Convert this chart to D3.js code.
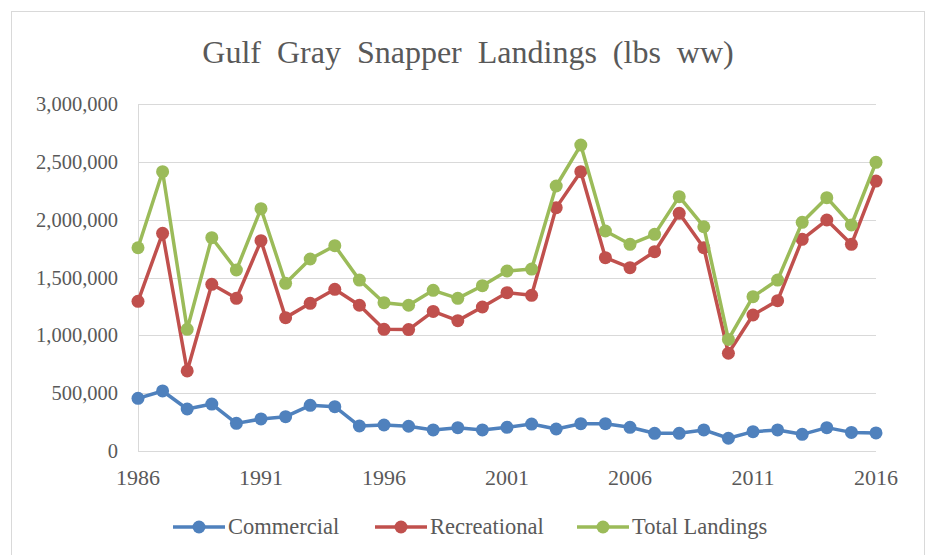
<!DOCTYPE html>
<html>
<head>
<meta charset="utf-8">
<script src="https://cdn.jsdelivr.net/npm/d3@7"></script>
<style>
  body { margin: 0; background: #fff; }
  svg text { font-family: 'Liberation Serif', 'Times New Roman', serif; fill: #595959; }
</style>
</head>
<body>
<div id="chart"></div>
<script>
// years on the x axis
var years = d3.range(1986, 2017);
var tickYears = [1986, 1991, 1996, 2001, 2006, 2011, 2016];
var yTicks = [0, 500000, 1000000, 1500000, 2000000, 2500000, 3000000];

var commercial = [455000, 519000, 363000, 406000, 239000, 277000, 297000, 395000, 383000, 216000,
  225000, 214000, 182000, 202000, 182000, 205000, 233000, 190000, 236000, 236000,
  205000, 153000, 153000, 182000, 110000, 167000, 182000, 144000, 202000, 161000, 156000];

var recreational = [1294000, 1882000, 692000, 1441000, 1320000, 1818000, 1153000, 1277000, 1398000, 1260000,
  1052000, 1050000, 1207000, 1127000, 1245000, 1369000, 1346000, 2104000, 2415000, 1671000,
  1585000, 1723000, 2055000, 1758000, 845000, 1176000, 1300000, 1830000, 1997000, 1787000, 2334000];

var totalLandings = [1757000, 2415000, 1052000, 1844000, 1565000, 2095000, 1450000, 1660000, 1775000, 1478000,
  1282000, 1260000, 1389000, 1320000, 1429000, 1556000, 1573000, 2291000, 2645000, 1902000,
  1787000, 1873000, 2199000, 1939000, 965000, 1334000, 1478000, 1977000, 2190000, 1954000, 2496000];

var seriesNames = ["Commercial", "Recreational", "Total Landings"];
var seriesColors = ["#4f81bd", "#c0504d", "#9bbb59"];
var seriesValues = [commercial, recreational, totalLandings];

var width = 927, height = 555;

var svg = d3.select('#chart')
  .append('svg')
  .attr('width', width)
  .attr('height', height);

// outer chart border
svg.append('rect')
  .attr('x', 11.5).attr('y', 11.5)
  .attr('width', 913).attr('height', 560)
  .attr('fill', 'none')
  .attr('stroke', '#d9d9d9');

var x = d3.scaleLinear().domain([1986, 2016]).range([138, 876]);
var y = d3.scaleLinear().domain([0, 3000000]).range([451, 104]);

// gridlines
svg.append('g')
  .selectAll('line')
  .data(yTicks)
  .enter()
  .append('line')
  .attr('x1', 138).attr('x2', 876)
  .attr('y1', function(d) { return Math.round(y(d)) + 0.5; })
  .attr('y2', function(d) { return Math.round(y(d)) + 0.5; })
  .attr('stroke', '#d9d9d9')
  .attr('stroke-width', 1);

// left axis line
svg.append('line')
  .attr('x1', 138.5).attr('x2', 138.5)
  .attr('y1', 104).attr('y2', 451)
  .attr('stroke', '#d9d9d9');

// y tick labels
svg.append('g')
  .selectAll('text')
  .data(yTicks)
  .enter()
  .append('text')
  .attr('x', 118)
  .attr('y', function(d) { return y(d) + 7; })
  .attr('text-anchor', 'end')
  .style('font-size', '20.5px')
  .text(function(d) { return d3.format(',')(d); });

// x tick labels
svg.append('g')
  .selectAll('text')
  .data(tickYears)
  .enter()
  .append('text')
  .attr('x', function(d) { return x(d); })
  .attr('y', 485)
  .attr('text-anchor', 'middle')
  .style('font-size', '22px')
  .text(function(d) { return d; });

// title
svg.append('text')
  .attr('x', 468)
  .attr('y', 63)
  .attr('text-anchor', 'middle')
  .style('font-size', '32px')
  .style('word-spacing', '8px')
  .text('Gulf Gray Snapper Landings (lbs ww)');

var line = d3.line()
  .x(function(d, i) { return x(years[i]); })
  .y(function(d) { return y(d); });

seriesValues.forEach(function(vals, k) {
  var g = svg.append('g');
  g.append('path')
    .attr('d', line(vals))
    .attr('fill', 'none')
    .attr('stroke', seriesColors[k])
    .attr('stroke-width', 3.5)
    .attr('stroke-linejoin', 'round');
  g.selectAll('circle')
    .data(vals)
    .enter()
    .append('circle')
    .attr('cx', function(d, i) { return x(years[i]); })
    .attr('cy', function(d) { return y(d); })
    .attr('r', 6.5)
    .attr('fill', seriesColors[k]);
});

// legend
var legendX = [173, 375, 577];
var legend = svg.append('g');
seriesNames.forEach(function(name, k) {
  var lx = legendX[k];
  legend.append('line')
    .attr('x1', lx).attr('x2', lx + 52)
    .attr('y1', 527).attr('y2', 527)
    .attr('stroke', seriesColors[k])
    .attr('stroke-width', 3.5);
  legend.append('circle')
    .attr('cx', lx + 26).attr('cy', 527)
    .attr('r', 6.5)
    .attr('fill', seriesColors[k]);
  legend.append('text')
    .attr('x', lx + 55)
    .attr('y', 534)
    .style('font-size', '22.5px')
    .text(name);
});
</script>
</body>
</html>
